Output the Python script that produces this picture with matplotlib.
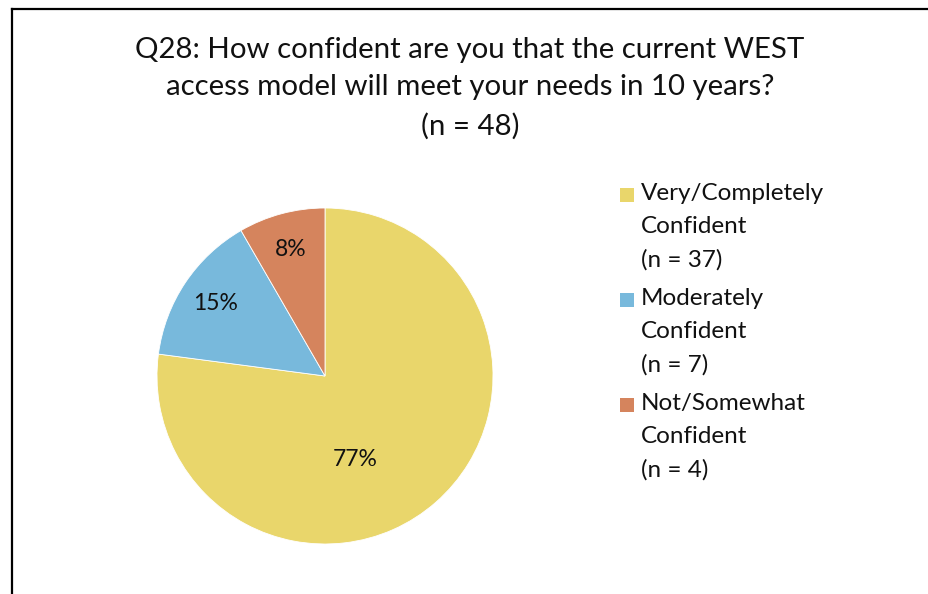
import matplotlib.pyplot as plt
from matplotlib.patches import Rectangle
from matplotlib.lines import Line2D

plt.rcParams['font.family'] = ['Lato', 'DejaVu Sans']

# Respuestas Q28 (n = 48)
categories = ["Very/Completely\nConfident\n(n = 37)",
              "Moderately\nConfident\n(n = 7)",
              "Not/Somewhat\nConfident\n(n = 4)"]
counts = [37, 7, 4]
colors = ["#E9D66B", "#78B9DC", "#D5845D"]

W, H = 929, 594
fig = plt.figure(figsize=(W / 100, H / 100), dpi=100)
fig.patch.set_facecolor("white")

def px(x, y):
    """píxeles (desde arriba-izquierda) -> fracción de figura"""
    return x / W, 1 - y / H

# marco del gráfico (solo borde superior e izquierdo visibles)
fig.add_artist(Line2D([12 / W, 12 / W], [0, 1 - 9 / H], color="black",
                      linewidth=1.6, transform=fig.transFigure))
fig.add_artist(Line2D([12 / W, 1], [1 - 9 / H, 1 - 9 / H], color="black",
                      linewidth=1.6, transform=fig.transFigure))

fig.text(*px(470, 88),
         "Q28: How confident are you that the current WEST\n"
         "access model will meet your needs in 10 years?\n(n = 48)",
         ha="center", va="center", fontsize=21.2, linespacing=1.56,
         color="#111111")

# pastel: centro (325, 376) px, radio 168 px
cx, cy, r = 325, 376, 168
ax = fig.add_axes([(cx - r) / W, 1 - (cy + r) / H, 2 * r / W, 2 * r / H])
wedges, _, pcts = ax.pie(counts, colors=colors, startangle=90,
                         counterclock=False, autopct="%.0f%%",
                         pctdistance=0.78, radius=1,
                         wedgeprops=dict(linewidth=0.6, edgecolor="white"),
                         textprops=dict(fontsize=16.5, color="#111111"))
pcts[0].set_position((0.18, -0.5))
ax.set_xlim(-1, 1)
ax.set_ylim(-1, 1)
ax.set_aspect("equal")
ax.axis("off")

# leyenda a mano: cuadro de color + etiqueta de tres líneas
for i, (label, c) in enumerate(zip(categories, colors)):
    y0 = 195 + 105 * i
    x, y = px(620, y0 + 7)
    fig.add_artist(Rectangle((x, y), 14 / W, 14 / H, facecolor=c,
                             edgecolor="none", transform=fig.transFigure))
    fig.text(*px(641, y0 + 32), label, ha="left", va="center",
             fontsize=17.5, linespacing=1.70, color="#111111")

fig.savefig("out.png", dpi=100, facecolor="white")
